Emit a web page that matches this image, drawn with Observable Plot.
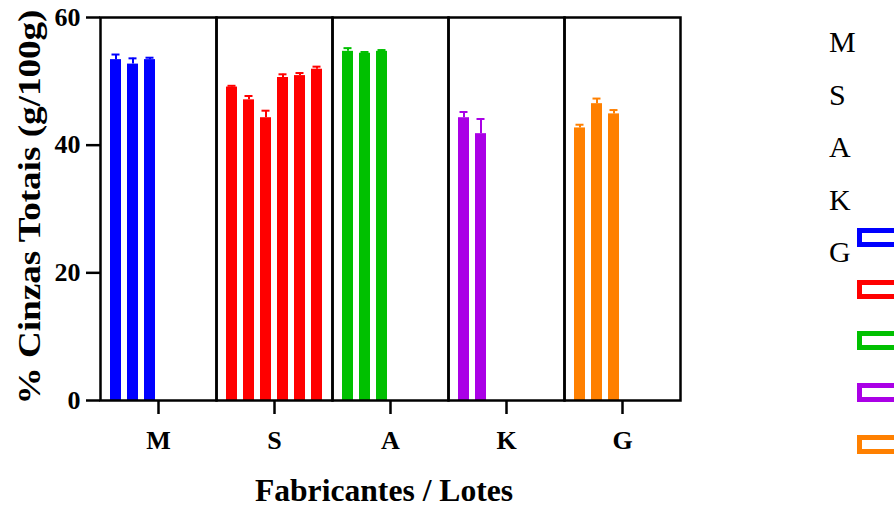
<!DOCTYPE html>
<html>
<head>
<meta charset="utf-8">
<script src="https://cdn.jsdelivr.net/npm/d3@7"></script>
<script src="https://cdn.jsdelivr.net/npm/@observablehq/plot@0.6"></script>
<style>
  html, body { margin: 0; padding: 0; background: #fff; }
  #wrap { position: relative; width: 894px; height: 508px; overflow: hidden; }
  #legend div, .title { position: absolute; }
  .lbl { font-family: "Liberation Serif", "Times New Roman", serif; font-size: 30px; line-height: 1; color: #000; }
  .sw { box-sizing: content-box; width: 40px; height: 9px; border-style: solid; border-width: 5px; background: #fff; }
  .title { font-family: "Liberation Serif", "Times New Roman", serif; font-weight: bold; line-height: 1; color: #000; white-space: nowrap; }
  #ytitle { font-size: 32px; left: 29px; top: 207px; transform: translate(-50%, -50%) rotate(-90deg) scaleX(1.16); }
  #xtitle { font-size: 31px; left: 384px; top: 475px; transform: translateX(-50%) scaleX(1.02); }
</style>
</head>
<body>
<div id="wrap"><div id="chart"></div><div id="legend"></div>
<div class="title" id="ytitle"></div><div class="title" id="xtitle"></div></div>
<script>
const groups = ["M", "S", "A", "K", "G"];
const colors = ["#0000ff", "#ff0000", "#00c000", "#aa00e6", "#ff8000"];
const valuesM = [53.4, 52.7, 53.4];
const sdM = [0.8, 0.9, 0.3];
const valuesS = [49.1, 47.1, 44.3, 50.6, 50.9, 51.9];
const sdS = [0.2, 0.6, 1.1, 0.5, 0.4, 0.4];
const valuesA = [54.7, 54.4, 54.7];
const sdA = [0.5, 0.2, 0.2];
const valuesK = [44.3, 41.8];
const sdK = [0.9, 2.3];
const valuesG = [42.7, 46.5, 44.9];
const sdG = [0.5, 0.8, 0.6];
const yTicks = [0, 20, 40, 60];
const yTitle = "% Cinzas Totais (g/100g)";
const xTitle = "Fabricantes / Lotes";

const seriesValues = [valuesM, valuesS, valuesA, valuesK, valuesG];
const seriesSd = [sdM, sdS, sdA, sdK, sdG];
const data = [];
groups.forEach((g, gi) => {
  seriesValues[gi].forEach((v, i) => {
    data.push({group: g, lot: i + 1, value: v, top: v + seriesSd[gi][i]});
  });
});

const serif = "'Liberation Serif', 'Times New Roman', serif";

const chart = Plot.plot({
  width: 894,
  height: 508,
  marginLeft: 100,
  marginRight: 214,
  marginTop: 17,
  marginBottom: 108,
  style: {fontFamily: serif, background: "#fff", color: "#000", overflow: "visible"},
  fx: {domain: groups, padding: 0, axis: null},
  x: {domain: [1, 2, 3, 4, 5, 6], paddingInner: 0.34, paddingOuter: 0.5, axis: null},
  y: {domain: [0, 60], axis: null},
  color: {domain: groups, range: colors},
  marks: [
    Plot.barY(data, {fx: "group", x: "lot", y: "value", fill: "group"}),
    Plot.ruleX(data, {fx: "group", x: "lot", y1: "value", y2: "top", stroke: "group", strokeWidth: 2}),
    Plot.tickY(data, {fx: "group", x: "lot", y: "top", stroke: "group", strokeWidth: 2, insetLeft: 1.5, insetRight: 1.5}),
    Plot.frame({stroke: "#000", strokeWidth: 2.5}),
    Plot.axisY({
      ticks: yTicks, tickSize: 14, tickPadding: 6, strokeWidth: 2.5,
      fontSize: 26, fontWeight: "bold", fontFamily: serif, label: null
    }),
    Plot.axisFx({
      anchor: "bottom", tickSize: 14, tickPadding: 16, strokeWidth: 2.5,
      fontSize: 26, fontWeight: "bold", fontFamily: serif, label: null
    })
  ]
});
document.getElementById("chart").appendChild(chart);
d3.select("#ytitle").text(yTitle);
d3.select("#xtitle").text(xTitle);

const legend = d3.select("#legend");
groups.forEach((g, i) => {
  legend.append("div").attr("class", "lbl")
    .style("left", "829px").style("top", (27 + i * 52.5) + "px").text(g);
  legend.append("div").attr("class", "sw")
    .style("left", "857px").style("top", (228 + i * 51.7) + "px")
    .style("border-color", colors[i]);
});
</script>
</body>
</html>
